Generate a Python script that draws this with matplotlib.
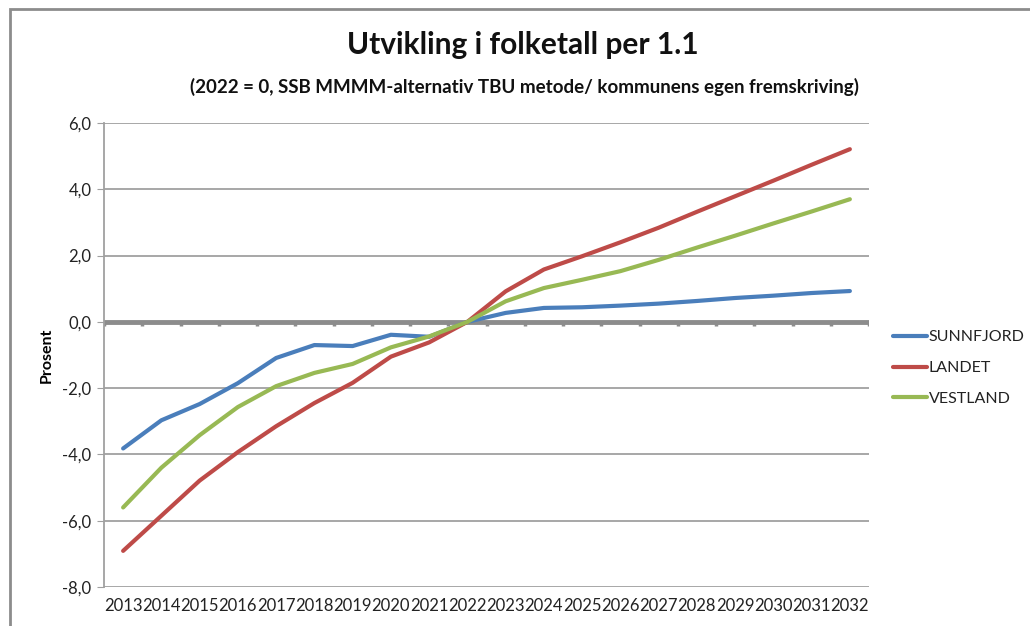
import matplotlib
matplotlib.use("Agg")
import matplotlib.pyplot as plt
from matplotlib.patches import Rectangle
import numpy as np

# Data (percent change, 2022 = 0)
years = [str(y) for y in range(2013, 2033)]
sunnfjord = [-3.82, -2.97, -2.48, -1.85, -1.09, -0.70, -0.73, -0.39, -0.45, 0.0,
             0.27, 0.42, 0.44, 0.49, 0.55, 0.63, 0.72, 0.79, 0.87, 0.93]
landet = [-6.91, -5.85, -4.79, -3.93, -3.15, -2.45, -1.84, -1.05, -0.62, 0.0,
          0.92, 1.58, 1.98, 2.40, 2.84, 3.32, 3.79, 4.26, 4.74, 5.21]
vestland = [-5.60, -4.40, -3.42, -2.57, -1.94, -1.54, -1.27, -0.77, -0.44, 0.0,
            0.62, 1.02, 1.27, 1.53, 1.87, 2.24, 2.60, 2.97, 3.33, 3.70]
series_names = ["SUNNFJORD", "LANDET", "VESTLAND"]
series_colors = ["#4a7ebb", "#be4b48", "#98b954"]
y_ticks = [-8, -6, -4, -2, 0, 2, 4, 6]

plt.rcParams['font.family'] = ['Lato', 'DejaVu Sans']

fig = plt.figure(figsize=(10.3, 6.26), dpi=100)
fig.patch.set_facecolor("white")

# chart frame (right and bottom edge cut off in the reference)
fig.patches.append(Rectangle((10 / 1030, -0.1), 1.2, (626 - 9) / 626 + 0.1,
                             transform=fig.transFigure, fill=False,
                             edgecolor="#8c8c8c", linewidth=2))

ax = fig.add_axes([104 / 1030, (626 - 587) / 626, (869 - 104) / 1030, (587 - 123) / 626])
x = np.arange(len(years))

for vals, name, col in zip([sunnfjord, landet, vestland], series_names, series_colors):
    ax.plot(x, vals, color=col, linewidth=3, label=name, solid_capstyle="round")

ax.set_xlim(-0.5, len(years) - 0.5)
ax.set_ylim(-8, 6)
ax.set_yticks(y_ticks)
ax.set_yticklabels([f"{v:.1f}".replace(".", ",") for v in y_ticks])
ax.set_xticks(x)
ax.set_xticklabels(years)

ax.grid(axis="y", color="#a0a0a0", linewidth=1.3)
ax.set_axisbelow(True)
for s in ["top", "right", "bottom"]:
    ax.spines[s].set_visible(False)
ax.spines["left"].set_color("#a0a0a0")
ax.spines["left"].set_linewidth(1.3)

# zero axis line with category tick marks
ax.axhline(0, color="#8c8c8c", linewidth=3.5, zorder=1.5)
for b in np.arange(-0.5, len(years), 1.0):
    ax.plot([b, b], [0, -0.12], color="#8c8c8c", linewidth=2.5, zorder=1.5,
            solid_capstyle="butt")

ax.tick_params(axis="y", length=5, color="#a0a0a0", labelsize=12, pad=4,
               labelcolor="#222222")
ax.tick_params(axis="x", length=0, labelsize=12, pad=8, labelcolor="#222222")
ax.set_ylabel("Prosent", fontsize=11.5, fontweight="bold", labelpad=6)

fig.text(523 / 1030, 1 - 45 / 626, "Utvikling i folketall per 1.1", ha="center",
         va="center", fontsize=21.5, fontweight="bold", color="#111111")
fig.text(525 / 1030, 1 - 87 / 626,
         "(2022 = 0, SSB MMMM-alternativ TBU metode/ kommunens egen fremskriving)",
         ha="center", va="center", fontsize=13.5, fontweight="bold", color="#111111")

leg = fig.legend(loc="center left", bbox_to_anchor=(893 / 1030, 1 - 368 / 626),
                 frameon=False, fontsize=11.5, handlelength=2.1, handletextpad=0.15,
                 labelspacing=1.05, borderpad=0, borderaxespad=0)
for t in leg.get_texts():
    t.set_color("#222222")

fig.savefig("out.png", dpi=100, facecolor="white")
